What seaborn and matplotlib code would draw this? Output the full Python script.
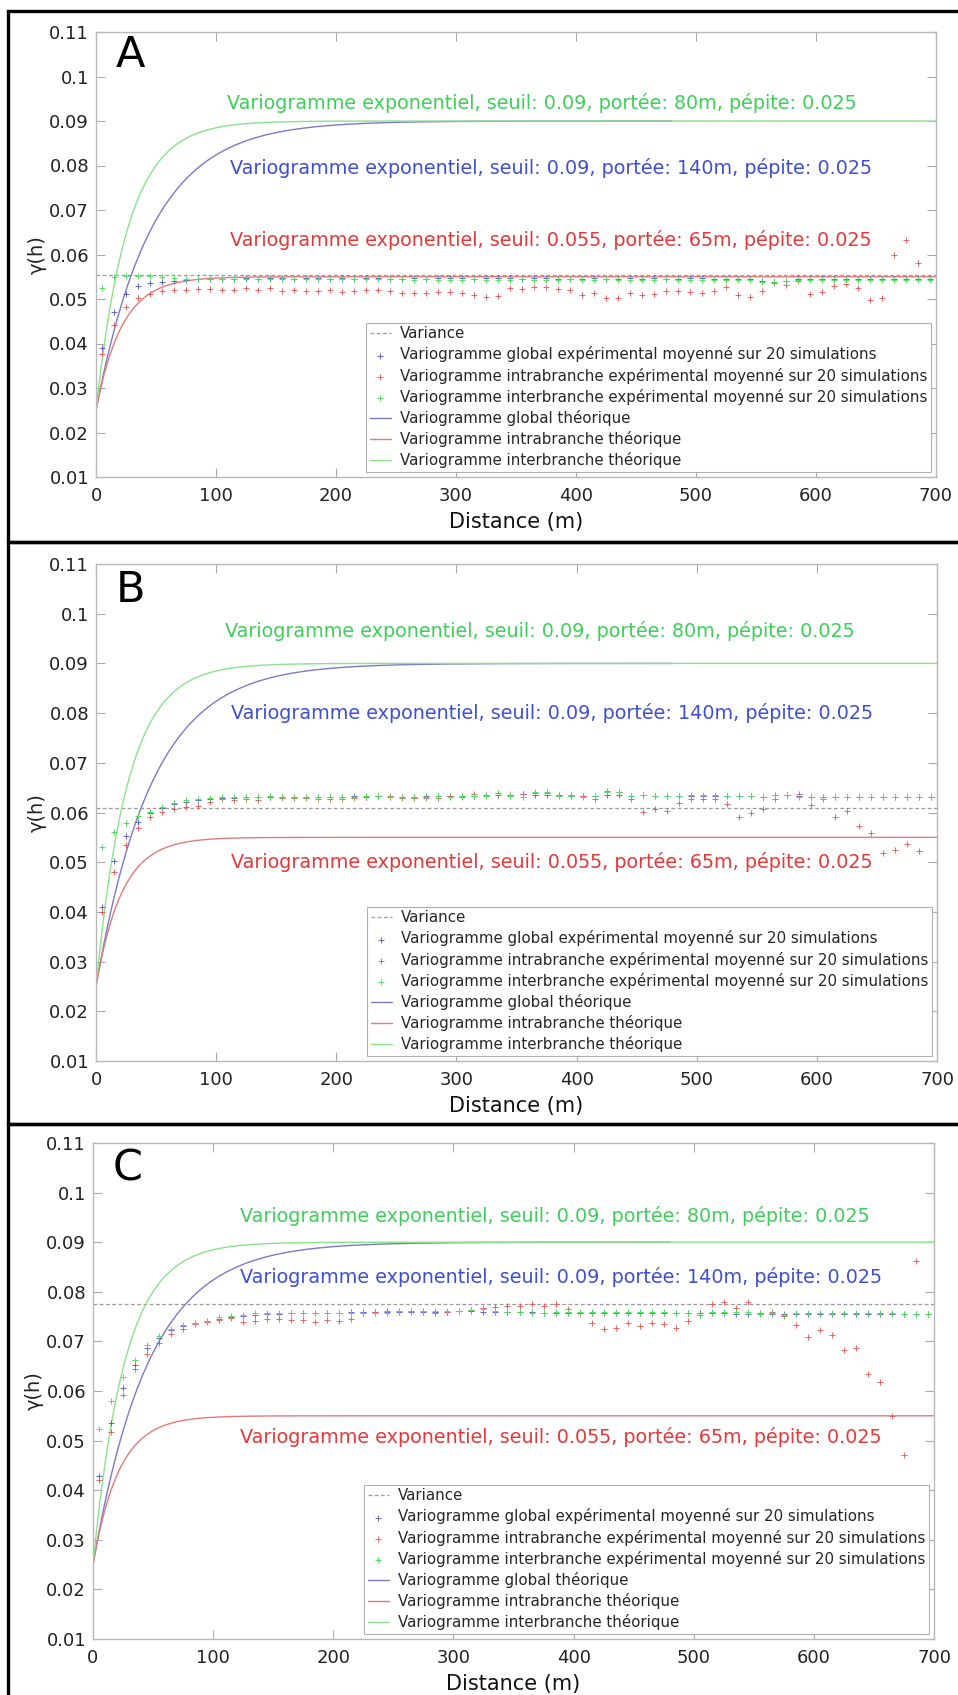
import numpy as np
import matplotlib
matplotlib.use("Agg")
import matplotlib.pyplot as plt
from matplotlib.patches import Rectangle
from matplotlib.ticker import FuncFormatter
import seaborn as sns

# Lags (m) of the experimental variograms
LAGS = list(range(5, 700, 10))

# Theoretical exponential models: seuil, portée (m), pépite
MODEL_GLOBAL = (0.09, 140, 0.025)
MODEL_INTRA = (0.055, 65, 0.025)
MODEL_INTER = (0.09, 80, 0.025)
GLOBAL_MAX_H = 480

# Variance of the simulations in each panel
VARIANCE = {"A": 0.0555, "B": 0.0610, "C": 0.0775}

# Panel A
GLOBAL_A = [0.0389, 0.0471, 0.0511, 0.0529, 0.0535, 0.0538, 0.0541, 0.0543, 0.0544, 0.0545,
            0.0546, 0.0546, 0.0547, 0.0546, 0.0547, 0.0547, 0.0546, 0.0547, 0.0547, 0.0546,
            0.0547, 0.0546, 0.0547, 0.0547, 0.0546, 0.0546, 0.0547, 0.0546, 0.0547, 0.0547,
            0.0547, 0.0546, 0.0547, 0.0548, 0.0547, 0.0546, 0.0548, 0.0547, 0.0546, 0.0546,
            0.0546, 0.0547, 0.0546, 0.0546, 0.0548, 0.0546, 0.0548, 0.0546, 0.0546, 0.0547,
            0.0548, 0.0546, 0.0546, 0.0546, 0.0545, 0.0540, 0.0539, 0.0541, 0.0545, 0.0546,
            0.0546, 0.0546, 0.0546, 0.0546, 0.0546, 0.0546, 0.0546, 0.0546, 0.0546, 0.0546]
INTRA_A = [0.0377, 0.0442, 0.0482, 0.0502, 0.0511, 0.0518, 0.0520, 0.0521, 0.0523, 0.0522,
           0.0521, 0.0521, 0.0524, 0.0521, 0.0524, 0.0519, 0.0521, 0.0518, 0.0518, 0.0520,
           0.0515, 0.0519, 0.0521, 0.0521, 0.0518, 0.0513, 0.0514, 0.0514, 0.0516, 0.0515,
           0.0513, 0.0509, 0.0505, 0.0506, 0.0524, 0.0523, 0.0528, 0.0527, 0.0523, 0.0520,
           0.0508, 0.0513, 0.0503, 0.0503, 0.0514, 0.0509, 0.0511, 0.0517, 0.0518, 0.0515,
           0.0513, 0.0519, 0.0527, 0.0509, 0.0505, 0.0517, 0.0535, 0.0532, 0.0540, 0.0511,
           0.0515, 0.0530, 0.0534, 0.0524, 0.0498, 0.0502, 0.0600, 0.0633, 0.0582]
INTER_A = [0.0524, 0.0550, 0.0552, 0.0552, 0.0551, 0.0550, 0.0547, 0.0546, 0.0546, 0.0545,
           0.0545, 0.0545, 0.0544, 0.0544, 0.0545, 0.0545, 0.0545, 0.0545, 0.0545, 0.0544,
           0.0544, 0.0544, 0.0544, 0.0545, 0.0544, 0.0544, 0.0543, 0.0544, 0.0543, 0.0543,
           0.0543, 0.0544, 0.0543, 0.0543, 0.0543, 0.0544, 0.0543, 0.0543, 0.0543, 0.0544,
           0.0543, 0.0543, 0.0544, 0.0543, 0.0543, 0.0543, 0.0543, 0.0544, 0.0543, 0.0543,
           0.0543, 0.0543, 0.0543, 0.0543, 0.0543, 0.0539, 0.0538, 0.0541, 0.0543, 0.0543,
           0.0543, 0.0543, 0.0543, 0.0543, 0.0543, 0.0543, 0.0543, 0.0543, 0.0543, 0.0543]

# Panel B
GLOBAL_B = [0.0410, 0.0503, 0.0553, 0.0581, 0.0598, 0.0610, 0.0617, 0.0621, 0.0625, 0.0627,
            0.0629, 0.0630, 0.0631, 0.0632, 0.0632, 0.0632, 0.0632, 0.0632, 0.0632, 0.0632,
            0.0632, 0.0633, 0.0632, 0.0633, 0.0632, 0.0632, 0.0632, 0.0633, 0.0633, 0.0633,
            0.0634, 0.0634, 0.0635, 0.0635, 0.0636, 0.0637, 0.0636, 0.0635, 0.0635, 0.0634,
            0.0634, 0.0634, 0.0636, 0.0636, 0.0634, 0.0635, 0.0634, 0.0634, 0.0634, 0.0634,
            0.0634, 0.0634, 0.0633, 0.0633, 0.0633, 0.0632, 0.0635, 0.0635, 0.0633, 0.0632,
            0.0631, 0.0631, 0.0631, 0.0631, 0.0631, 0.0631, 0.0631, 0.0631, 0.0631, 0.0631]
INTRA_B = [0.0400, 0.0480, 0.0535, 0.0568, 0.0590, 0.0602, 0.0607, 0.0612, 0.0614, 0.0622,
           0.0627, 0.0625, 0.0627, 0.0625, 0.0632, 0.0630, 0.0629, 0.0629, 0.0627, 0.0627,
           0.0627, 0.0630, 0.0632, 0.0633, 0.0633, 0.0630, 0.0629, 0.0629, 0.0630, 0.0634,
           0.0632, 0.0637, 0.0636, 0.0639, 0.0636, 0.0637, 0.0640, 0.0640, 0.0636, 0.0635,
           0.0634, 0.0627, 0.0643, 0.0642, 0.0627, 0.0602, 0.0608, 0.0603, 0.0620, 0.0627,
           0.0627, 0.0627, 0.0618, 0.0590, 0.0600, 0.0607, 0.0628, 0.0635, 0.0637, 0.0615,
           0.0627, 0.0590, 0.0603, 0.0572, 0.0558, 0.0518, 0.0525, 0.0537, 0.0523]
INTER_B = [0.0531, 0.0561, 0.0579, 0.0593, 0.0602, 0.0612, 0.0620, 0.0625, 0.0627, 0.0629,
           0.0631, 0.0631, 0.0632, 0.0632, 0.0633, 0.0631, 0.0632, 0.0631, 0.0632, 0.0631,
           0.0632, 0.0632, 0.0633, 0.0633, 0.0632, 0.0631, 0.0631, 0.0632, 0.0633, 0.0632,
           0.0634, 0.0634, 0.0633, 0.0639, 0.0633, 0.0632, 0.0642, 0.0641, 0.0633, 0.0633,
           0.0632, 0.0633, 0.0641, 0.0641, 0.0633, 0.0635, 0.0634, 0.0634, 0.0634, 0.0635,
           0.0635, 0.0635, 0.0633, 0.0633, 0.0633, 0.0631, 0.0635, 0.0635, 0.0631, 0.0631,
           0.0631, 0.0631, 0.0631, 0.0631, 0.0631, 0.0631, 0.0631, 0.0631, 0.0631, 0.0631]

# Panel C
GLOBAL_C = [0.0429, 0.0536, 0.0607, 0.0652, 0.0686, 0.0706, 0.0723, 0.0731, 0.0737, 0.0742,
            0.0746, 0.0749, 0.0752, 0.0754, 0.0755, 0.0756, 0.0757, 0.0757, 0.0758, 0.0758,
            0.0758, 0.0759, 0.0759, 0.0760, 0.0760, 0.0760, 0.0760, 0.0760, 0.0760, 0.0760,
            0.0761, 0.0761, 0.0760, 0.0760, 0.0759, 0.0759, 0.0759, 0.0758, 0.0758, 0.0758,
            0.0758, 0.0758, 0.0757, 0.0757, 0.0757, 0.0757, 0.0757, 0.0757, 0.0757, 0.0757,
            0.0757, 0.0757, 0.0757, 0.0756, 0.0756, 0.0756, 0.0756, 0.0756, 0.0756, 0.0756,
            0.0756, 0.0756, 0.0756, 0.0756, 0.0756, 0.0756, 0.0756, 0.0756, 0.0756, 0.0756]
INTRA_C = [0.0421, 0.0518, 0.0592, 0.0644, 0.0675, 0.0696, 0.0714, 0.0726, 0.0736, 0.0740,
           0.0743, 0.0748, 0.0740, 0.0742, 0.0746, 0.0745, 0.0743, 0.0743, 0.0740, 0.0743,
           0.0742, 0.0746, 0.0758, 0.0760, 0.0761, 0.0761, 0.0761, 0.0761, 0.0757, 0.0759,
           0.0762, 0.0763, 0.0767, 0.0769, 0.0772, 0.0771, 0.0776, 0.0772, 0.0776, 0.0765,
           0.0758, 0.0738, 0.0724, 0.0728, 0.0738, 0.0731, 0.0738, 0.0735, 0.0728, 0.0742,
           0.0753, 0.0776, 0.0780, 0.0767, 0.0780, 0.0757, 0.0759, 0.0751, 0.0733, 0.0708,
           0.0723, 0.0713, 0.0683, 0.0687, 0.0634, 0.0619, 0.0550, 0.0471, 0.0863]
INTER_C = [0.0523, 0.0580, 0.0628, 0.0663, 0.0693, 0.0710, 0.0724, 0.0733, 0.0738, 0.0742,
           0.0749, 0.0751, 0.0753, 0.0757, 0.0757, 0.0757, 0.0757, 0.0757, 0.0757, 0.0757,
           0.0757, 0.0757, 0.0757, 0.0757, 0.0758, 0.0761, 0.0761, 0.0761, 0.0761, 0.0761,
           0.0762, 0.0763, 0.0765, 0.0762, 0.0760, 0.0759, 0.0757, 0.0757, 0.0759, 0.0760,
           0.0759, 0.0759, 0.0760, 0.0759, 0.0759, 0.0759, 0.0759, 0.0759, 0.0757, 0.0757,
           0.0753, 0.0759, 0.0759, 0.0759, 0.0759, 0.0755, 0.0757, 0.0753, 0.0757, 0.0757,
           0.0757, 0.0757, 0.0757, 0.0757, 0.0757, 0.0757, 0.0757, 0.0755, 0.0755, 0.0755]

PANELS = {
    "A": (GLOBAL_A, INTRA_A, INTER_A),
    "B": (GLOBAL_B, INTRA_B, INTER_B),
    "C": (GLOBAL_C, INTRA_C, INTER_C),
}

YTICKS = [0.01, 0.02, 0.03, 0.04, 0.05, 0.06, 0.07, 0.08, 0.09, 0.1, 0.11]
XTICKS = [0, 100, 200, 300, 400, 500, 600, 700]

LEGEND_LABELS = [
    "Variance",
    "Variogramme global expérimental moyenné sur 20 simulations",
    "Variogramme intrabranche expérimental moyenné sur 20 simulations",
    "Variogramme interbranche expérimental moyenné sur 20 simulations",
    "Variogramme global théorique",
    "Variogramme intrabranche théorique",
    "Variogramme interbranche théorique",
]

# layout, in figure pixels (958 x 1695)
W, H = 958, 1695
AX_BOX = {"A": (96, 32, 936, 477), "B": (96, 564, 937, 1061), "C": (93, 1143, 934, 1639)}
FRAME_BOX = {"A": (8, 11, 542), "B": (8, 542, 1124), "C": (8, 1124, 1700)}
# annotation anchors (x left in m, y in gamma) for inter / global / intra
TEXT_POS = {
    "A": [(109, 0.0940), (112, 0.0794), (112, 0.0633)],
    "B": [(107, 0.0965), (112, 0.0801), (112, 0.0500)],
    "C": [(122, 0.0952), (122, 0.0830), (122, 0.0507)],
}

C_BLUE_PT, C_RED_PT, C_GREEN_PT = "#5a5ad0", "#e85a5a", "#4cdc5c"
C_BLUE_LN, C_RED_LN, C_GREEN_LN = "#7a7ac8", "#e27a7a", "#8be28b"
C_BLUE_TX, C_RED_TX, C_GREEN_TX = "#3e4fd2", "#e63838", "#3dcf5a"


def gamma_exp(h, model):
    seuil, portee, pepite = model
    return pepite + (seuil - pepite) * (1 - np.exp(-3.0 * h / portee))


def model_text(model):
    seuil, portee, pepite = model
    return f"Variogramme exponentiel, seuil: {seuil:g}, portée: {portee:g}m, pépite: {pepite:g}"


sns.set_style("ticks")
plt.rcParams["font.family"] = ["DejaVu Sans"]
plt.rcParams["axes.edgecolor"] = "#b8b8b8"

fig = plt.figure(figsize=(W / 100, H / 100), dpi=100)

h_full = np.linspace(0, 700, 701)
h_glob = np.linspace(0, GLOBAL_MAX_H, GLOBAL_MAX_H + 1)

for key, (glob, intra, inter) in PANELS.items():
    x0, y0, x1, y1 = AX_BOX[key]
    ax = fig.add_axes([x0 / W, 1 - y1 / H, (x1 - x0) / W, (y1 - y0) / H])

    hv = ax.axhline(VARIANCE[key], color="#9a9a9a", ls=(0, (3, 2)), lw=0.9, zorder=1)

    sns.lineplot(x=h_glob, y=gamma_exp(h_glob, MODEL_GLOBAL), color=C_BLUE_LN, lw=1.0, ax=ax)
    l_glob = ax.lines[-1]
    sns.lineplot(x=h_full, y=gamma_exp(h_full, MODEL_INTRA), color=C_RED_LN, lw=1.0, ax=ax)
    l_intra = ax.lines[-1]
    sns.lineplot(x=h_full, y=gamma_exp(h_full, MODEL_INTER), color=C_GREEN_LN, lw=1.0, ax=ax)
    l_inter = ax.lines[-1]

    pt_kw = dict(marker="+", s=22, linewidth=0.65, ax=ax, zorder=3)
    sns.scatterplot(x=LAGS[:len(glob)], y=glob, color=C_BLUE_PT, **pt_kw)
    s_glob = ax.collections[-1]
    sns.scatterplot(x=LAGS[:len(intra)], y=intra, color=C_RED_PT, **pt_kw)
    s_intra = ax.collections[-1]
    sns.scatterplot(x=LAGS[:len(inter)], y=inter, color=C_GREEN_PT, **pt_kw)
    s_inter = ax.collections[-1]

    (tx_g, ty_g), (tx_b, ty_b), (tx_r, ty_r) = TEXT_POS[key]
    ax.text(tx_g, ty_g, model_text(MODEL_INTER), color=C_GREEN_TX, fontsize=13.8, va="center")
    ax.text(tx_b, ty_b, model_text(MODEL_GLOBAL), color=C_BLUE_TX, fontsize=13.8, va="center")
    ax.text(tx_r, ty_r, model_text(MODEL_INTRA), color=C_RED_TX, fontsize=13.8, va="center")
    ax.text(29, 0.1048, key, fontsize=31, ha="center", va="center", color="black")

    ax.set_xlim(0, 700)
    ax.set_ylim(0.01, 0.11)
    ax.set_xticks(XTICKS)
    ax.set_yticks(YTICKS)
    ax.yaxis.set_major_formatter(FuncFormatter(lambda v, p: f"{v:g}"))
    ax.tick_params(direction="in", length=6.5, width=0.8, color="#aaaaaa",
                   labelsize=13, labelcolor="#222222", top=True, right=True)
    ax.tick_params(axis="x", pad=7)
    ax.tick_params(axis="y", pad=5)
    for sp in ax.spines.values():
        sp.set_color("#b8b8b8")
        sp.set_linewidth(1.0)
    ax.set_xlabel("Distance (m)", fontsize=15, labelpad=5, color="#111111")
    ax.set_ylabel("γ(h)", fontsize=14, labelpad=2, color="#222222")

    leg = ax.legend([hv, s_glob, s_intra, s_inter, l_glob, l_intra, l_inter], LEGEND_LABELS,
                    loc="lower right", fontsize=10.8, frameon=True, fancybox=False,
                    framealpha=1, edgecolor="#b0b0b0", borderaxespad=0.35,
                    handlelength=1.4, handletextpad=0.6, labelspacing=0.34,
                    borderpad=0.25, scatterpoints=1)
    leg.get_frame().set_linewidth(0.8)

    fx, ft, fb = FRAME_BOX[key]
    fig.add_artist(Rectangle((fx / W, 1 - fb / H), (W + 10 - fx) / W, (fb - ft) / H,
                             transform=fig.transFigure, fill=False, ec="black", lw=2.4,
                             clip_on=False))

fig.savefig("out.png", dpi=100)
